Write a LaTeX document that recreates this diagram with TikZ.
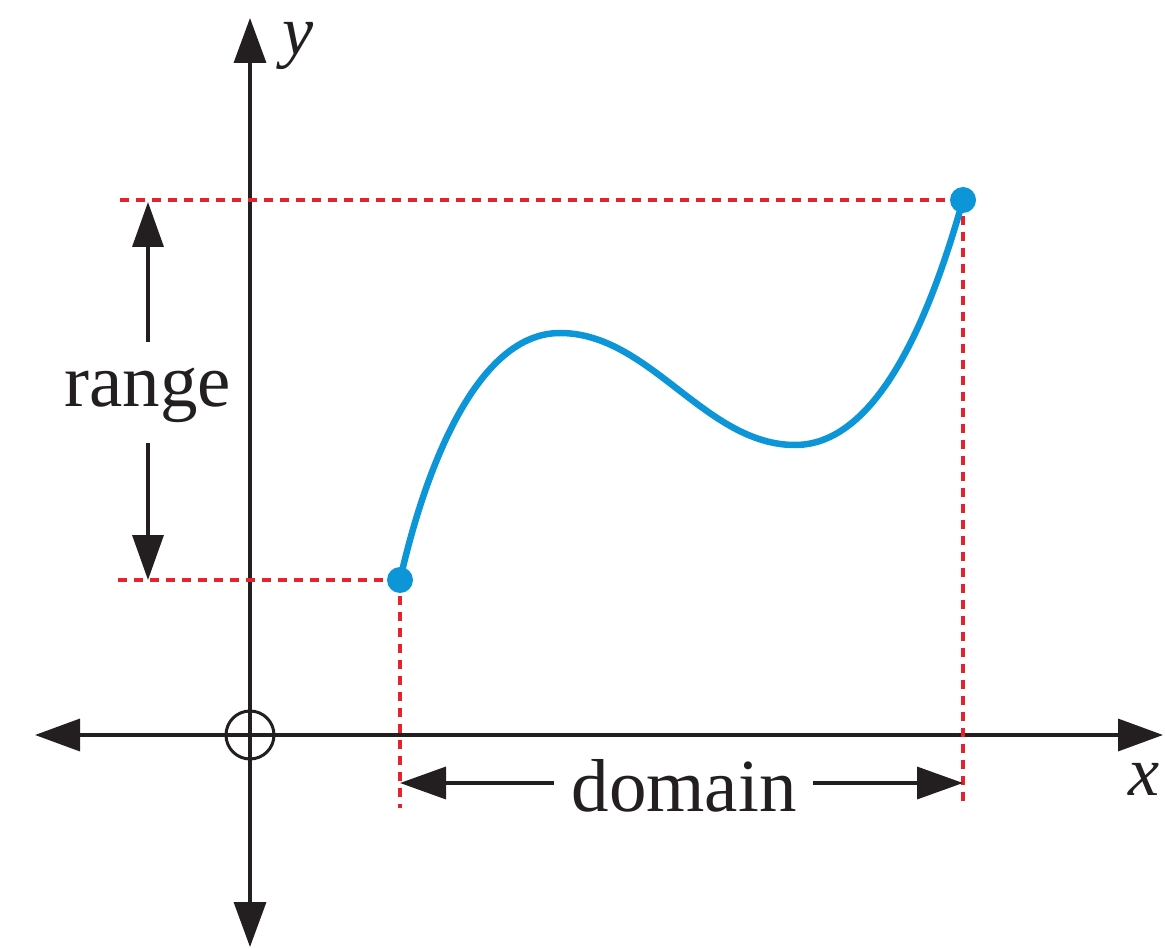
\documentclass[tikz,border=0pt]{standalone}
\usepackage{fontspec}
\setmainfont{Liberation Serif}
\usetikzlibrary{arrows.meta}
\definecolor{curveblue}{RGB}{12,150,216}
\definecolor{dashred}{RGB}{230,35,45}
\definecolor{axisblack}{RGB}{35,31,32}
\begin{document}
\begin{tikzpicture}[x=1pt,y=-1pt,
  axisline/.style={line width=3.5pt, draw=axisblack, color=axisblack},
  guide/.style={draw=dashred, line width=3.5pt, dash pattern=on 9pt off 7pt},
  label/.style={font=\fontsize{75}{80}\selectfont, text=axisblack, inner sep=0pt},
  axlabel/.style={font=\fontsize{70}{76}\selectfont\itshape, text=axisblack, inner sep=0pt},
  fn/.style={draw=curveblue, line width=6.5pt},
  dot/.style={circle, fill=curveblue, minimum size=26pt, inner sep=0pt}]
\useasboundingbox (0,0) rectangle (1165,949);

% axes
\coordinate (xl) at (35,735);
\coordinate (xr) at (1163,735);
\coordinate (yb) at (250,947);
\coordinate (yt) at (250,18);
\draw[axisline, {Triangle[length=45pt,width=32pt]}-{Triangle[length=45pt,width=32pt]}] (xl) -- (xr);
\draw[axisline, {Triangle[length=45pt,width=32pt]}-{Triangle[length=45pt,width=32pt]}] (yb) -- (yt);
\node[circle, draw=axisblack, line width=3pt, minimum size=48pt, inner sep=0pt] (O) at (250,735) {};
\node[axlabel, anchor=base] (ylab) at (298,55) {y};
\node[axlabel, anchor=base] (xlab) at (1144,795) {x};

% guide lines
\coordinate (A) at (400,580);
\coordinate (B) at (963,200);
\coordinate (gA) at (118,580);
\coordinate (gB) at (120,200);
\coordinate (vA) at (400,808);
\coordinate (vB) at (963,808);
\draw[guide] (gB) -- (B);
\draw[guide] (gA) -- (A);
\draw[guide] (A) -- (vA);
\draw[guide] (B) -- (vB);

% curve
\draw[fn] (A) .. controls (426,465) and (478,333) .. (560,333)
              .. controls (650,333) and (705,445) .. (795,445)
              .. controls (880,445) and (932,310) .. (B);
\node[dot] (pA) at (A) {};
\node[dot] (pB) at (B) {};

% range
\node[label, anchor=base] (range) at (148,407) {range};
\coordinate (r1) at (148,342);
\coordinate (r2) at (148,443);
\coordinate (rt) at (148,202);
\coordinate (rb) at (148,580);
\draw[axisline, -{Triangle[length=45pt,width=31pt]}] (r1) -- (rt);
\draw[axisline, -{Triangle[length=45pt,width=31pt]}] (r2) -- (rb);

% domain
\node[label, anchor=base] (domain) at (684,811) {domain};
\coordinate (d1) at (554,783);
\coordinate (d2) at (813,783);
\coordinate (dl) at (400,783);
\coordinate (dr) at (963,783);
\draw[axisline, -{Triangle[length=46pt,width=32pt]}] (d1) -- (dl);
\draw[axisline, -{Triangle[length=46pt,width=32pt]}] (d2) -- (dr);
\end{tikzpicture}
\end{document}
